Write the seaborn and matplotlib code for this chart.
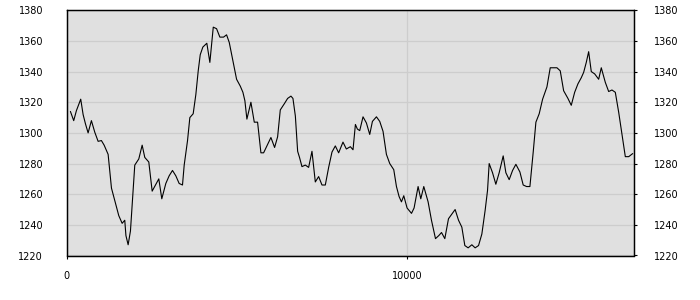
import matplotlib
matplotlib.use("Agg")
import matplotlib.pyplot as plt
import seaborn as sns
import pandas as pd

x_vals = [109, 206, 285, 412, 482, 550, 629, 726, 824, 923, 1020, 1100, 1197, 1217,
          1315, 1412, 1530, 1629, 1706, 1740, 1805, 1873, 1932, 2000, 2118, 2217, 2294,
          2412, 2511, 2608, 2706, 2794, 2912, 3010, 3108, 3206, 3304, 3402, 3452, 3550,
          3618, 3716, 3794, 3864, 3923, 4000, 4117, 4206, 4306, 4403, 4500, 4608, 4697,
          4776, 4903, 4991, 5100, 5177, 5235, 5294, 5412, 5511, 5608, 5706, 5785, 5882,
          6000, 6108, 6197, 6275, 6393, 6491, 6588, 6647, 6718, 6785, 6840, 6912, 7010,
          7108, 7206, 7304, 7402, 7500, 7598, 7696, 7794, 7892, 7990, 8117, 8216, 8334,
          8412, 8482, 8540, 8609, 8706, 8805, 8903, 8982, 9100, 9197, 9294, 9393, 9491,
          9609, 9688, 9765, 9835, 9903, 10000, 10130, 10206, 10324, 10403, 10491, 10618,
          10717, 10835, 10932, 11012, 11109, 11217, 11315, 11412, 11512, 11609, 11697,
          11794, 11903, 12000, 12100, 12197, 12294, 12364, 12412, 12511, 12608, 12706,
          12824, 12903, 13000, 13100, 13197, 13315, 13412, 13511, 13609, 13706, 13785,
          13882, 13982, 14109, 14206, 14403, 14500, 14600, 14726, 14824, 14924, 15020,
          15118, 15188, 15265, 15335, 15412, 15512, 15629, 15706, 15824, 15923, 16020,
          16118, 16217, 16315, 16412, 16512, 16629]

y_vals = [1314, 1308, 1314.5, 1322, 1312, 1306, 1300, 1308, 1300.5, 1294.5, 1295, 1292,
          1287, 1286, 1264, 1256, 1246, 1241, 1243, 1233, 1227, 1236, 1256, 1279, 1283,
          1292, 1284, 1281, 1262, 1266, 1270, 1257, 1267, 1272, 1275.5, 1272, 1267, 1266,
          1279, 1295, 1310, 1312.5, 1325, 1340.5, 1351, 1356, 1358.5, 1346, 1369, 1368,
          1362.5, 1362.5, 1364, 1359, 1345, 1335, 1330.5, 1326.5, 1321, 1309, 1320, 1307,
          1307, 1287, 1287, 1291.5, 1297, 1290.5, 1297.5, 1315, 1319, 1322.5, 1324,
          1322.5, 1311, 1288, 1284, 1278, 1279, 1277.5, 1288, 1268, 1271.5, 1266, 1266,
          1277.5, 1287.5, 1291.5, 1287, 1294, 1289.5, 1291, 1289, 1305.5, 1302.5, 1301.5,
          1310.5, 1306.5, 1299, 1307.5, 1310.5, 1307.5, 1301, 1286, 1280, 1276, 1265,
          1258.5, 1255, 1259, 1251, 1247.5, 1251, 1265, 1257, 1265, 1255, 1243, 1231,
          1233, 1235, 1231, 1244, 1247, 1250, 1243, 1238.5, 1226.5, 1225, 1227, 1225,
          1226.5, 1234, 1249.5, 1262.5, 1280, 1274, 1266.5, 1274, 1285, 1274, 1269.5,
          1275.5, 1279.5, 1274.5, 1266, 1265, 1265, 1287.5, 1307, 1312.5, 1322, 1330,
          1342.5, 1342.5, 1340.5, 1327.5, 1322.5, 1318, 1326.5, 1332, 1336, 1339.5, 1346,
          1353, 1340, 1338.5, 1335, 1342.5, 1333, 1327, 1328, 1326.5, 1313.5, 1299,
          1284.5, 1284.5, 1286.5]

y_ticks = [1220, 1240, 1260, 1280, 1300, 1320, 1340, 1360, 1380]
x_ticks = [0, 10000]

df = pd.DataFrame({"x": x_vals, "y": y_vals})

sns.set_theme(style="white")
plt.rcParams["font.family"] = ["DejaVu Sans"]

fig = plt.figure(figsize=(7, 3), dpi=100)
ax = fig.add_axes([66.7 / 700, 1 - 255.5 / 300, (634.3 - 66.7) / 700, (255.5 - 10.3) / 300])
ax.set_facecolor("#e0e0e0")

sns.lineplot(data=df, x="x", y="y", ax=ax, color="black", linewidth=0.8,
             estimator=None, sort=False)

ax.set_xlim(0, 16676)
ax.set_ylim(1220, 1380)
ax.set_xticks(x_ticks)
ax.set_xticklabels([str(v) for v in x_ticks])
ax.set_yticks(y_ticks)
ax.set_yticklabels([str(v) for v in y_ticks])
ax.set_xlabel("")
ax.set_ylabel("")

ax.grid(True, color="#cdcdcd", linewidth=0.9)
ax.set_axisbelow(True)

for s in ax.spines.values():
    s.set_visible(True)
    s.set_color("black")
    s.set_linewidth(0.9)

ax.tick_params(axis="x", bottom=True, direction="out", length=2.5, width=0.8,
               pad=9, labelsize=7, colors="black")
ax.tick_params(axis="y", left=False, right=False, labelleft=True, labelright=False,
               length=0, pad=17, labelsize=7, colors="black")

ax2 = ax.twinx()
ax2.set_ylim(1220, 1380)
ax2.set_yticks(y_ticks)
ax2.set_yticklabels([str(v) for v in y_ticks])
ax2.set_ylabel("")
ax2.grid(False)
for s in ax2.spines.values():
    s.set_visible(True)
    s.set_color("black")
    s.set_linewidth(0.9)
ax2.tick_params(axis="y", right=True, labelright=True, direction="out", length=2.5,
                width=0.8, pad=12, labelsize=7, colors="black")

fig.savefig("out.png", dpi=100, facecolor="white")
